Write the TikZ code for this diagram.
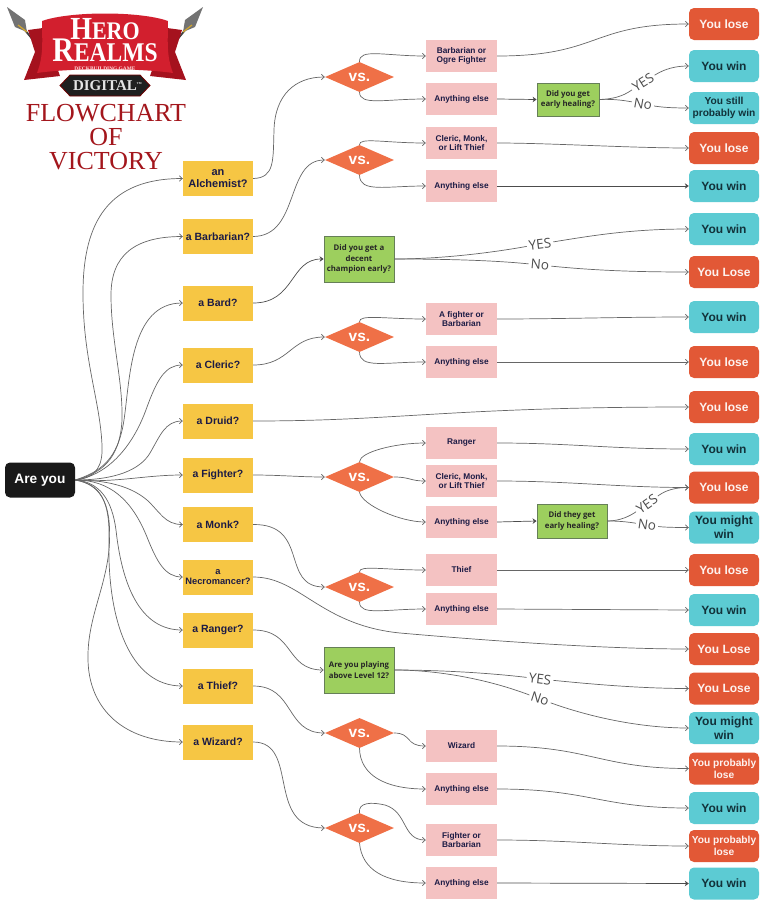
\documentclass[tikz,border=0pt]{standalone}
\usepackage{fontspec}
\setmainfont{Liberation Sans}
\newfontfamily\headfont{Liberation Serif}
\newfontfamily\checkfont{Open Sans}
\usetikzlibrary{arrows.meta, shapes.geometric}
\newcommand{\px}[2]{\fontsize{#1}{#2}\selectfont}
\definecolor{askyellow}{HTML}{F6C644}
\definecolor{vspink}{HTML}{F4C2C2}
\definecolor{checkgreen}{HTML}{9DCF5E}
\definecolor{checkline}{HTML}{667F58}
\definecolor{losered}{HTML}{E25836}
\definecolor{winteal}{HTML}{5CCBD3}
\definecolor{vsorange}{HTML}{EF7047}
\definecolor{inkblue}{HTML}{1C1B45}
\definecolor{winink}{HTML}{12323A}
\definecolor{linkgrey}{HTML}{666666}
\definecolor{titlered}{HTML}{A3161C}
\definecolor{bannerred}{HTML}{D21F2E}
\definecolor{ribbonred}{HTML}{A5121E}
\tikzset{
  rootbox/.style={fill=black!90, text=white, rounded corners=5pt, minimum width=70pt, minimum height=35pt, inner sep=0pt, font=\bfseries\px{13.7}{15}},
  askbox/.style={fill=askyellow, text=inkblue, minimum width=70pt, minimum height=35pt, inner sep=0pt, align=center, font=\bfseries\px{10.5}{12}},
  pinkbox/.style={fill=vspink, text=inkblue, minimum width=71pt, minimum height=32pt, inner sep=0pt, align=center, font=\bfseries\px{8.3}{9.6}},
  checkbox/.style={fill=checkgreen, draw=checkline, line width=.8pt, text=black!85, inner sep=0pt, align=center, font=\checkfont\bfseries\px{7.8}{10.8}},
  losebox/.style={fill=losered, text=white!92!losered, rounded corners=5pt, minimum width=70pt, minimum height=32pt, inner sep=0pt, align=center, font=\bfseries\px{12}{14}},
  winbox/.style={fill=winteal, text=winink, rounded corners=5pt, minimum width=70pt, minimum height=32pt, inner sep=0pt, align=center, font=\bfseries\px{12}{14}},
  vsmark/.style={diamond, fill=vsorange, text=white, minimum width=69pt, minimum height=26pt, inner sep=0pt, font=\bfseries\px{15.5}{16}},
  link/.style={draw=linkgrey, line width=.7pt, -{Straight Barb[length=3pt,width=5.5pt]}},
  hardlink/.style={draw=black!70, line width=.7pt, -{Stealth[length=4pt,width=5.5pt]}},
  answer/.style={text=black!70, inner sep=2pt, font=\checkfont\px{13.5}{14}},
}
\begin{document}
\begin{tikzpicture}[x=1pt, y=-1pt]
  \useasboundingbox (0,0) rectangle (768,906);

  \draw[black!75, line width=1.8pt] (24,29)--(38,46);
  \draw[black!75, line width=1.8pt] (186,29)--(172,46);
  \fill[black!55] (7,7)--(15,27)--(27,32)--(25,20)--cycle;
  \fill[black!55] (203,7)--(195,27)--(183,32)--(185,20)--cycle;
  \draw[brown!70!yellow, line width=1.2pt] (18,25)--(27,32);
  \draw[brown!70!yellow, line width=1.2pt] (192,25)--(183,32);
  \fill[ribbonred] (28,30)--(43,28)--(60,76)--(24,80)--(35,52)--cycle;
  \fill[ribbonred] (182,30)--(167,28)--(150,76)--(186,80)--(175,52)--cycle;
  \fill[bannerred] (42,21) .. controls (70,11) and (140,11) .. (168,21) .. controls (168,40) and (166,55) .. (173,73) .. controls (140,68) and (70,68) .. (37,73) .. controls (44,55) and (42,40) .. (42,21);
  \fill[black!88, draw=red!45!black, line width=.8pt] (70,75)--(140,75)--(150,85.5)--(140,96)--(70,96)--(60,85.5)--cycle;
  \node[text=white, inner sep=0pt, yscale=1.15, transform shape, font=\headfont\bfseries] (herotext) at (105,29){{\px{28}{28}H}{\px{22}{22}ERO}};
  \node[text=white, inner sep=0pt, yscale=1.15, transform shape, font=\headfont\bfseries] (realmstext) at (105,50.5){{\px{30}{30}R}{\px{23.5}{24}EALMS}};
  \node[text=red!15!white, inner sep=0pt, font=\headfont\bfseries\px{5.4}{6}] (decktext) at (105,69){DECKBUILDING GAME};
  \node[text=white!90!black, inner sep=0pt, font=\headfont\bfseries\px{15}{16}] (digitaltext) at (105,85.5){DIGITAL\rlap{\raisebox{6pt}{\px{3}{3}TM}}};
  \node[text=titlered, inner sep=0pt, align=center, font=\headfont\px{26}{24}] (titletext) at (106,137){FLOWCHART\\OF\\VICTORY};

  \node[rootbox] (root) at (40,480){Are you};

  \node[askbox, font=\bfseries\px{11}{12}] (alchemist) at (218,178.5){an\\Alchemist?};
  \node[askbox] (barbarian) at (218,236.5){a Barbarian?};
  \node[askbox] (bard) at (218,303){a Bard?};
  \node[askbox] (cleric) at (218,365){a Cleric?};
  \node[askbox] (druid) at (218,421){a Druid?};
  \node[askbox] (fighter) at (218,475){a Fighter?};
  \node[askbox] (monk) at (218,524.5){a Monk?};
  \node[askbox, font=\bfseries\px{9.3}{10.5}] (necro) at (218,577){a\\Necromancer?};
  \node[askbox] (ranger) at (218,630){a Ranger?};
  \node[askbox] (thief) at (218,686){a Thief?};
  \node[askbox] (wizard) at (218,742){a Wizard?};

  \node[vsmark] (vsalch) at (359.5,77){vs.};
  \node[vsmark] (vsbarb) at (359.5,160){vs.};
  \node[vsmark] (vscleric) at (359.5,337){vs.};
  \node[vsmark] (vsfighter) at (359.5,477){vs.};
  \node[vsmark] (vsmonk) at (359.5,587){vs.};
  \node[vsmark] (vsthief) at (359.5,733){vs.};
  \node[vsmark] (vswizard) at (359.5,828){vs.};

  \node[checkbox, minimum width=70pt, minimum height=46pt] (checkbard) at (359,259){Did you get a\\decent\\champion early?};
  \node[checkbox, minimum width=70pt, minimum height=46pt] (checkranger) at (359,670){Are you playing\\above Level 12?};
  \node[checkbox, minimum width=62pt, minimum height=33pt] (checkalch) at (568,99.5){Did you get\\early healing?};
  \node[checkbox, minimum width=70pt, minimum height=34pt] (checkfighter) at (572,521){Did they get\\early healing?};

  \node[pinkbox] (pinkalcha) at (461.5,56){Barbarian or\\Ogre Fighter};
  \node[pinkbox] (pinkalchb) at (461.5,99){Anything else};
  \node[pinkbox] (pinkbarba) at (461.5,143){Cleric, Monk,\\or Lift Thief};
  \node[pinkbox] (pinkbarbb) at (461.5,186){Anything else};
  \node[pinkbox] (pinkclerica) at (461.5,319){A fighter or\\Barbarian};
  \node[pinkbox] (pinkclericb) at (461.5,362){Anything else};
  \node[pinkbox] (pinkfightera) at (461.5,443){Ranger};
  \node[pinkbox] (pinkfighterb) at (461.5,481){Cleric, Monk,\\or Lift Thief};
  \node[pinkbox] (pinkfighterc) at (461.5,522){Anything else};
  \node[pinkbox] (pinkmonka) at (461.5,570){Thief};
  \node[pinkbox] (pinkmonkb) at (461.5,609){Anything else};
  \node[pinkbox] (pinkthiefa) at (461.5,746){Wizard};
  \node[pinkbox] (pinkthiefb) at (461.5,789){Anything else};
  \node[pinkbox] (pinkwizarda) at (461.5,840){Fighter or\\Barbarian};
  \node[pinkbox] (pinkwizardb) at (461.5,883){Anything else};

  \node[losebox] (endone) at (724,24){You lose};
  \node[winbox] (endtwo) at (724,66){You win};
  \node[winbox, font=\bfseries\px{10.2}{11.8}] (endthree) at (724,108){You still\\probably win};
  \node[losebox] (endfour) at (724,148){You lose};
  \node[winbox] (endfive) at (724,186){You win};
  \node[winbox] (endsix) at (724,229){You win};
  \node[losebox] (endseven) at (724,272){You Lose};
  \node[winbox] (endeight) at (724,317){You win};
  \node[losebox] (endnine) at (724,362){You lose};
  \node[losebox] (endten) at (724,407){You lose};
  \node[winbox] (endeleven) at (724,449){You win};
  \node[losebox] (endtwelve) at (724,487.5){You lose};
  \node[winbox] (endthirteen) at (724,527.5){You might\\win};
  \node[losebox] (endfourteen) at (724,570){You lose};
  \node[winbox] (endfifteen) at (724,610){You win};
  \node[losebox] (endsixteen) at (724,649){You Lose};
  \node[losebox] (endseventeen) at (724,688.5){You Lose};
  \node[winbox] (endeighteen) at (724,728){You might\\win};
  \node[losebox, font=\bfseries\px{10.2}{11.8}] (endnineteen) at (724,768.5){You probably\\lose};
  \node[winbox] (endtwenty) at (724,808){You win};
  \node[losebox, font=\bfseries\px{10.2}{11.8}] (endtwentyone) at (724,846){You probably\\lose};
  \node[winbox] (endtwentytwo) at (724,883.5){You win};

  \node[answer, rotate=32] (yesalch) at (643,82){YES};
  \node[answer, rotate=-10] (noalch) at (643,104){No};
  \node[answer, rotate=7] (yesbard) at (540,244){YES};
  \node[answer, rotate=-5] (nobard) at (540,265){No};
  \node[answer, rotate=35] (yesfighter) at (647,504){YES};
  \node[answer, rotate=-8] (nofighter) at (647,525){No};
  \node[answer, rotate=-7] (yesranger) at (540,679){YES};
  \node[answer, rotate=-18] (noranger) at (540,699){No};

  \draw[link] (root.east) .. controls (97,478) and (103,465) .. (102,445) .. controls (100,400) and (83,360) .. (83,293) .. controls (83,220) and (110,178.5) .. (alchemist.west);
  \draw[link] (root.east) .. controls (100,474) and (120,460) .. (122,420) .. controls (123,380) and (111,340) .. (111,295) .. controls (111,255) and (135,236.5) .. (barbarian.west);
  \draw[link] (root.east) .. controls (100,472) and (118,460) .. (124,420) .. controls (130,380) and (130,303) .. (bard.west);
  \draw[link] (root.east) .. controls (105,476) and (132,450) .. (147,407) .. controls (157,380) and (165,365) .. (cleric.west);
  \draw[link] (root.east) .. controls (115,480) and (140,470) .. (150,453) .. controls (160,436) and (165,421) .. (druid.west);
  \draw[link] (root.east) .. controls (115,483) and (145,475) .. (fighter.west);
  \draw[link] (root.east) .. controls (115,480) and (135,490) .. (147,500) .. controls (160,512) and (165,524.5) .. (monk.west);
  \draw[link] (root.east) .. controls (110,480) and (132,500) .. (147,537) .. controls (157,562) and (165,577) .. (necro.west);
  \draw[link] (root.east) .. controls (100,482) and (112,500) .. (116,530) .. controls (122,585) and (140,630) .. (ranger.west);
  \draw[link] (root.east) .. controls (100,484) and (110,500) .. (109,540) .. controls (107,620) and (130,686) .. (thief.west);
  \draw[link] (root.east) .. controls (105,485) and (112,510) .. (109,550) .. controls (105,590) and (87,620) .. (88,660) .. controls (89,710) and (125,742) .. (wizard.west);

  \draw[link] (alchemist.east) .. controls (275,178) and (273,160) .. (274,130) .. controls (275,95) and (295,77) .. (vsalch.west);
  \draw[link] (barbarian.east) .. controls (300,236) and (285,160) .. (vsbarb.west);
  \draw[hardlink] (bard.east) .. controls (295,303) and (290,259) .. (checkbard.west);
  \draw[link] (cleric.east) .. controls (290,365) and (290,337) .. (vscleric.west);
  \draw[link] (druid.east) .. controls (400,421) and (450,407) .. (endten.west);
  \draw[link] (fighter.east) .. controls (280,475) and (300,477) .. (vsfighter.west);
  \draw[link] (monk.east) .. controls (310,524) and (280,587) .. (vsmonk.west);
  \draw[link] (necro.east) .. controls (300,577) and (320,625) .. (400,633) .. controls (480,640) and (600,649) .. (endsixteen.west);
  \draw[link] (ranger.east) .. controls (295,630) and (285,670) .. (checkranger.west);
  \draw[link] (thief.east) .. controls (295,686) and (285,733) .. (vsthief.west);
  \draw[link] (wizard.east) .. controls (300,742) and (265,828) .. (vswizard.west);

  \draw[link] (vsalch.north) .. controls (359,48) and (385,56) .. (pinkalcha.west);
  \draw[link] (vsalch.south) .. controls (360,106) and (385,99) .. (pinkalchb.west);
  \draw[link] (vsbarb.north) .. controls (359,137) and (385,143) .. (pinkbarba.west);
  \draw[link] (vsbarb.south) .. controls (360,193) and (385,186) .. (pinkbarbb.west);
  \draw[link] (vscleric.north) .. controls (359,314) and (385,319) .. (pinkclerica.west);
  \draw[link] (vscleric.south) .. controls (360,369) and (385,362) .. (pinkclericb.west);
  \draw[link] (vsfighter.north) .. controls (360,452) and (395,443) .. (pinkfightera.west);
  \draw[link] (vsfighter.east) .. controls (410,477) and (410,481) .. (pinkfighterb.west);
  \draw[link] (vsfighter.south) .. controls (362,505) and (400,522) .. (pinkfighterc.west);
  \draw[link] (vsmonk.north) .. controls (359,565) and (385,570) .. (pinkmonka.west);
  \draw[link] (vsmonk.south) .. controls (360,616) and (385,609) .. (pinkmonkb.west);
  \draw[link] (vsthief.east) .. controls (412,733) and (405,746) .. (pinkthiefa.west);
  \draw[link] (vsthief.south) .. controls (360,775) and (385,789) .. (pinkthiefb.west);
  \draw[link] (vswizard.north) .. controls (358,802) and (372,802) .. (385,805) .. controls (408,812) and (402,840) .. (pinkwizarda.west);
  \draw[link] (vswizard.south) .. controls (362,870) and (385,883) .. (pinkwizardb.west);

  \draw[link] (pinkalcha.east) .. controls (600,56) and (590,24) .. (endone.west);
  \draw[hardlink] (pinkalchb.east) -- (checkalch.west);
  \draw[link] (pinkbarba.east) .. controls (550,143) and (630,148) .. (endfour.west);
  \draw[hardlink] (pinkbarbb.east) -- (endfive.west);
  \draw[link] (pinkclerica.east) .. controls (560,319) and (620,317) .. (endeight.west);
  \draw[link] (pinkclericb.east) -- (endnine.west);
  \draw[link] (pinkfightera.east) .. controls (570,443) and (610,449) .. (endeleven.west);
  \draw[link] (pinkfighterb.east) .. controls (570,481) and (620,487.5) .. (endtwelve.west);
  \draw[hardlink] (pinkfighterc.east) -- (checkfighter.west);
  \draw[link] (pinkmonka.east) -- (endfourteen.west);
  \draw[link] (pinkmonkb.east) -- (endfifteen.west);
  \draw[link] (pinkthiefa.east) .. controls (590,746) and (600,768.5) .. (endnineteen.west);
  \draw[link] (pinkthiefb.east) .. controls (590,789) and (600,808) .. (endtwenty.west);
  \draw[link] (pinkwizarda.east) .. controls (570,840) and (620,846) .. (endtwentyone.west);
  \draw[hardlink] (pinkwizardb.east) -- (endtwentytwo.west);

  \draw[link] (checkalch.east) .. controls (612,99) and (622,97) .. (yesalch) .. controls (660,72) and (670,66) .. (endtwo.west);
  \draw[link] (checkalch.east) .. controls (612,99) and (622,100) .. (noalch) .. controls (660,107) and (670,108) .. (endthree.west);
  \draw[link] (checkbard.east) .. controls (440,259) and (490,253) .. (yesbard) .. controls (590,236) and (630,229) .. (endsix.west);
  \draw[link] (checkbard.east) .. controls (440,259) and (490,260) .. (nobard) .. controls (590,270) and (630,272) .. (endseven.west);
  \draw[link] (checkfighter.east) .. controls (620,521) and (630,516) .. (yesfighter) .. controls (662,493) and (670,487.5) .. (endtwelve.west);
  \draw[link] (checkfighter.east) .. controls (620,521) and (628,522) .. (nofighter) .. controls (662,527) and (670,527.5) .. (endthirteen.west);
  \draw[link] (checkranger.east) .. controls (440,670) and (490,673) .. (yesranger) .. controls (590,684) and (640,688.5) .. (endseventeen.west);
  \draw[link] (checkranger.east) .. controls (440,670) and (490,680) .. (noranger) .. controls (590,717) and (640,728) .. (endeighteen.west);
\end{tikzpicture}
\end{document}
